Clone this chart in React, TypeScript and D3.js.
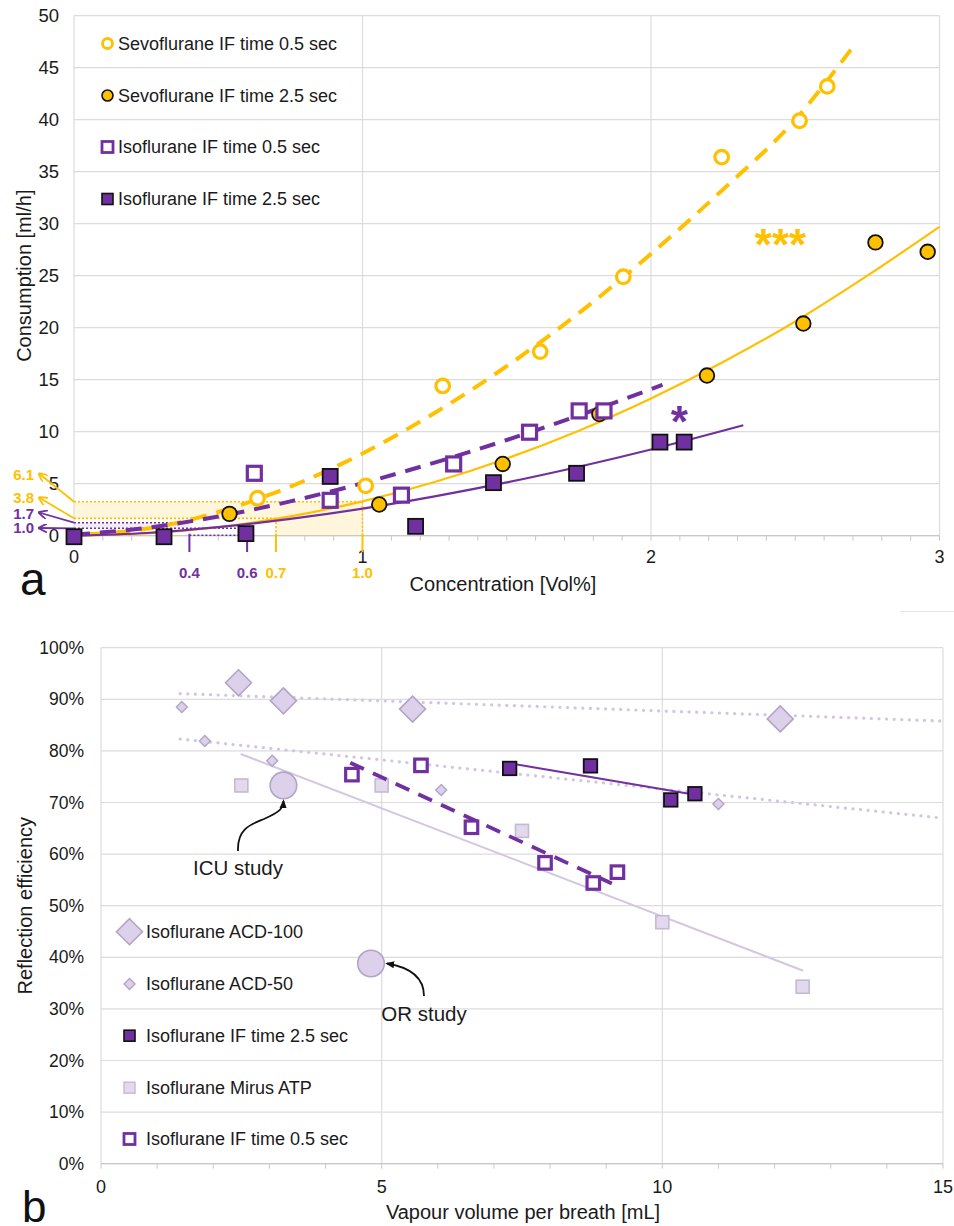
import React from "react";
import * as d3 from "d3";

// ---------- Panel a data ----------
const sevo05Conc = [0.636, 1.011, 1.278, 1.616, 1.904, 2.245, 2.515, 2.611];
const sevo05Cons = [3.6, 4.8, 14.4, 17.7, 24.9, 36.4, 39.9, 43.2];
const sevo25Conc = [0.539, 1.058, 1.486, 1.821, 2.194, 2.528, 2.778, 2.959];
const sevo25Cons = [2.1, 3.0, 6.9, 11.7, 15.4, 20.4, 28.2, 27.3];
const iso05Conc = [0.625, 0.888, 1.135, 1.316, 1.579, 1.751, 1.837];
const iso05Cons = [6.0, 3.4, 3.9, 6.9, 9.95, 12.0, 12.0];
const iso25Conc = [0, 0.312, 0.596, 0.888, 1.184, 1.454, 1.742, 2.031, 2.115];
const iso25Cons = [-0.1, -0.1, 0.2, 5.7, 0.9, 5.1, 6.0, 9.0, 9.0];

// trend lines
const sevo05TrendX = [0.05, 0.25, 0.5, 0.75, 1.0, 1.25, 1.5, 1.75, 2.0, 2.25, 2.5, 2.7];
const sevo05TrendY = [0.15, 0.66, 2.28, 4.72, 7.9, 11.8, 16.3, 21.4, 27.1, 33.3, 40.0, 47.0];
const sevo25TrendX = [0, 0.25, 0.5, 0.75, 1.0, 1.25, 1.5, 1.75, 2.0, 2.25, 2.5, 2.75, 3.0];
const sevo25TrendY = [0, 0.21, 0.83, 1.86, 3.3, 5.16, 7.43, 10.1, 13.2, 16.7, 20.6, 25.0, 29.7];
const iso05TrendX = [0, 0.25, 0.5, 0.75, 1.0, 1.25, 1.5, 1.75, 2.04];
const iso05TrendY = [0.1, 0.75, 1.85, 3.3, 5.05, 7.03, 9.2, 11.56, 14.5];
const iso25TrendX = [0, 0.25, 0.5, 0.75, 1.0, 1.25, 1.5, 1.75, 2.0, 2.32];
const iso25TrendY = [0, 0.26, 0.82, 1.61, 2.6, 3.78, 5.12, 6.63, 8.29, 10.62];

const yTicksA = [0, 5, 10, 15, 20, 25, 30, 35, 40, 45, 50];
const xTicksA = [0, 1, 2, 3];

const legendA = [
  "Sevoflurane IF time 0.5 sec",
  "Sevoflurane IF time 2.5 sec",
  "Isoflurane IF time 0.5 sec",
  "Isoflurane IF time 2.5 sec",
];

// annotation values (panel a)
const sevoLevels = [3.27, 1.67];
const sevoLevelLabels = ["6.1", "3.8"];
const isoLevels = [1.25, 0.71];
const isoLevelLabels = ["1.7", "1.0"];
const isoConcMarks = [0.4, 0.6];
const sevoConcMarks = [0.7, 1.0];
const isoConcLabels = ["0.4", "0.6"];
const sevoConcLabels = ["0.7", "1.0"];

// ---------- Panel b data ----------
const acd100X = [2.45, 3.25, 5.55, 12.1];
const acd100Y = [0.932, 0.897, 0.881, 0.862];
const acd50X = [1.44, 1.85, 3.05, 6.06, 11.0];
const acd50Y = [0.885, 0.819, 0.781, 0.724, 0.697];
const if25X = [7.28, 8.72, 10.15, 10.58];
const if25Y = [0.766, 0.771, 0.705, 0.717];
const mirusX = [2.5, 5.0, 7.5, 10.0, 12.5];
const mirusY = [0.733, 0.733, 0.645, 0.468, 0.343];
const if05X = [4.47, 5.7, 6.6, 7.91, 8.77, 9.2];
const if05Y = [0.754, 0.772, 0.652, 0.583, 0.544, 0.565];
const icuStudy = [3.25, 0.733];
const orStudy = [4.81, 0.388];

const acd100TrendX = [1.41, 14.96];
const acd100TrendY = [0.911, 0.858];
const acd50TrendX = [1.41, 14.96];
const acd50TrendY = [0.823, 0.67];
const if25TrendX = [7.28, 10.58];
const if25TrendY = [0.776, 0.715];
const if05TrendX = [4.44, 9.1];
const if05TrendY = [0.777, 0.543];
const mirusTrendX = [2.49, 12.51];
const mirusTrendY = [0.794, 0.374];

const yTicksB = [0, 0.1, 0.2, 0.3, 0.4, 0.5, 0.6, 0.7, 0.8, 0.9, 1.0];
const xTicksB = [0, 5, 10, 15];
const legendB = [
  "Isoflurane ACD-100",
  "Isoflurane ACD-50",
  "Isoflurane IF time 2.5 sec",
  "Isoflurane Mirus ATP",
  "Isoflurane IF time 0.5 sec",
];

// ---------- styles ----------
const YEL = "#FFC000";
const PUR = "#7030A0";
const LAV = "#DCD0EA";
const LAV_S = "#B3A4C6";
const MIR = "#E2DAEC";
const MIR_S = "#C5B9D4";
const DOT = "#D3C5E4";
const GRID = "#DCDCDC";
const TXT = "#1a1a1a";
const FONT = "'Liberation Sans', Arial, Helvetica, sans-serif";

const zip = (xs: number[], ys: number[]) => xs.map((x, i) => [x, ys[i]] as [number, number]);

export default function App() {
  const xA = d3.scaleLinear().domain([0, 3]).range([74, 939.5]);
  const yA = d3.scaleLinear().domain([0, 50]).range([535.7, 15.7]);
  const xB = d3.scaleLinear().domain([0, 15]).range([101, 943]);
  const yB = d3.scaleLinear().domain([0, 1]).range([1163.7, 647.7]);

  const lineA = d3
    .line<[number, number]>()
    .x((d) => xA(d[0]))
    .y((d) => yA(d[1]))
    .curve(d3.curveMonotoneX);
  const lineB = d3
    .line<[number, number]>()
    .x((d) => xB(d[0]))
    .y((d) => yB(d[1]));

  const minorA = d3.range(0, 30.01, 1).map((i) => i / 10);
  const minorB = d3.range(0, 15.01, 1);

  const sq = (cx: number, cy: number, s: number, props: any, key?: any) => (
    <rect key={key} x={cx - s / 2} y={cy - s / 2} width={s} height={s} {...props} />
  );
  const diamond = (cx: number, cy: number, r: number, props: any, key?: any) => (
    <path key={key} d={`M${cx},${cy - r}L${cx + r},${cy}L${cx},${cy + r}L${cx - r},${cy}Z`} {...props} />
  );

  // cream shaded region (panel a)
  const shade =
    [
      [0, sevoLevels[0]],
      [sevoConcMarks[1], sevoLevels[0]],
      [sevoConcMarks[1], 0],
      [sevoConcMarks[0], 0],
      [sevoConcMarks[0], sevoLevels[1]],
      [0, sevoLevels[1]],
    ]
      .map((p, i) => `${i ? "L" : "M"}${xA(p[0])},${yA(p[1])}`)
      .join("") + "Z";
  const lavShade = `M${xA(0)},${yA(isoLevels[0])}L${xA(isoConcMarks[0])},${yA(isoLevels[0])}L${xA(isoConcMarks[0])},${yA(isoLevels[1])}L${xA(0)},${yA(isoLevels[1])}Z`;

  const annArrowEnds = [
    [39, 473.5],
    [39, 497.5],
    [39, 512.5],
    [39, 528],
  ];
  const annLabelY = [480, 503, 519, 533];

  return (
    <svg
      width={954}
      height={1226}
      style={{ position: "absolute", left: 0, top: 0, background: "#fff" }}
      fontFamily={FONT}
    >
      <defs>
        <marker id="arrY" viewBox="0 0 10 10" refX="9" refY="5" markerWidth="9" markerHeight="9" markerUnits="userSpaceOnUse" orient="auto">
          <path d="M0,0L10,5L0,10" fill="none" stroke={YEL} strokeWidth="2" />
        </marker>
        <marker id="arrP" viewBox="0 0 10 10" refX="9" refY="5" markerWidth="9" markerHeight="9" markerUnits="userSpaceOnUse" orient="auto">
          <path d="M0,0L10,5L0,10" fill="none" stroke={PUR} strokeWidth="2" />
        </marker>
        <marker id="arrK" viewBox="0 0 10 10" refX="8" refY="5" markerWidth="9" markerHeight="9" markerUnits="userSpaceOnUse" orient="auto">
          <path d="M0,1L10,5L0,9Z" fill="#111" />
        </marker>
      </defs>

      {/* ================= PANEL A ================= */}
      <path d={shade} fill="#FFF4D6" opacity={0.85} />
      <path d={lavShade} fill="#F1EAF7" opacity={0.9} />

      {yTicksA.map((t) => (
        <line key={"gya" + t} x1={xA(0)} x2={xA(3)} y1={yA(t)} y2={yA(t)} stroke={GRID} strokeWidth={1.2} />
      ))}
      {xTicksA.map((t) => (
        <line key={"gxa" + t} x1={xA(t)} x2={xA(t)} y1={yA(0)} y2={yA(50)} stroke={GRID} strokeWidth={1.2} />
      ))}
      {minorA.map((t) => (
        <line key={"mta" + t} x1={xA(t)} x2={xA(t)} y1={yA(0)} y2={yA(0) + 5} stroke="#C8C8C8" strokeWidth={1} />
      ))}
      <line x1={xA(0)} x2={xA(3)} y1={yA(0)} y2={yA(0)} stroke="#C8C8C8" strokeWidth={1.2} />

      {yTicksA.map((t) => (
        <text key={"lya" + t} x={59} y={yA(t)} dy="0.35em" textAnchor="end" fontSize={18.5} fill={TXT}>
          {t}
        </text>
      ))}
      {xTicksA.map((t) => (
        <text key={"lxa" + t} x={xA(t)} y={563} textAnchor="middle" fontSize={18} fill={TXT}>
          {t}
        </text>
      ))}

      {/* annotation dotted lines */}
      <line x1={xA(0)} x2={xA(sevoConcMarks[1])} y1={yA(sevoLevels[0])} y2={yA(sevoLevels[0])} stroke={YEL} strokeWidth={1.6} strokeDasharray="2 2" />
      <line x1={xA(0)} x2={xA(sevoConcMarks[0])} y1={yA(sevoLevels[1])} y2={yA(sevoLevels[1])} stroke={YEL} strokeWidth={1.6} strokeDasharray="2 2" />
      <line x1={xA(sevoConcMarks[1])} x2={xA(sevoConcMarks[1])} y1={yA(sevoLevels[0])} y2={yA(0)} stroke={YEL} strokeWidth={1.6} strokeDasharray="2 2" />
      <line x1={xA(sevoConcMarks[0])} x2={xA(sevoConcMarks[0])} y1={yA(sevoLevels[1])} y2={yA(0)} stroke={YEL} strokeWidth={1.6} strokeDasharray="2 2" />
      <line x1={xA(0)} x2={xA(isoConcMarks[0])} y1={yA(isoLevels[0])} y2={yA(isoLevels[0])} stroke={PUR} strokeWidth={1.6} strokeDasharray="2 2" />
      <line x1={xA(0)} x2={xA(isoConcMarks[1])} y1={yA(isoLevels[1])} y2={yA(isoLevels[1])} stroke={PUR} strokeWidth={1.6} strokeDasharray="2 2" />
      <line x1={xA(isoConcMarks[0])} x2={xA(isoConcMarks[1])} y1={yA(0.05)} y2={yA(0.05)} stroke={PUR} strokeWidth={1.6} strokeDasharray="2 2" />

      {isoConcMarks.map((c, i) => (
        <g key={"icm" + i}>
          <line x1={xA(c)} x2={xA(c)} y1={yA(0) - 2} y2={552} stroke={PUR} strokeWidth={2} />
          <text x={xA(c)} y={578} textAnchor="middle" fontSize={15} fontWeight={700} fill={PUR}>
            {isoConcLabels[i]}
          </text>
        </g>
      ))}
      {sevoConcMarks.map((c, i) => (
        <g key={"scm" + i}>
          <line x1={xA(c)} x2={xA(c)} y1={yA(0) - 2} y2={552} stroke={YEL} strokeWidth={2} />
          <text x={xA(c)} y={578} textAnchor="middle" fontSize={15} fontWeight={700} fill={YEL}>
            {sevoConcLabels[i]}
          </text>
        </g>
      ))}

      {[...sevoLevels, ...isoLevels].map((v, i) => {
        const col = i < 2 ? YEL : PUR;
        const lab = i < 2 ? sevoLevelLabels[i] : isoLevelLabels[i - 2];
        return (
          <g key={"arr" + i}>
            <line
              x1={xA(0)}
              y1={yA(v)}
              x2={annArrowEnds[i][0]}
              y2={annArrowEnds[i][1]}
              stroke={col}
              strokeWidth={1.8}
              markerEnd={i < 2 ? "url(#arrY)" : "url(#arrP)"}
            />
            <text x={34} y={annLabelY[i]} textAnchor="end" fontSize={15} fontWeight={700} fill={col}>
              {lab}
            </text>
          </g>
        );
      })}

      {/* trend lines */}
      <path d={lineA(zip(sevo05TrendX, sevo05TrendY)) || ""} fill="none" stroke={YEL} strokeWidth={4} strokeDasharray="16 10" />
      <path d={lineA(zip(sevo25TrendX, sevo25TrendY)) || ""} fill="none" stroke={YEL} strokeWidth={2.2} />
      <path d={lineA(zip(iso05TrendX, iso05TrendY)) || ""} fill="none" stroke={PUR} strokeWidth={4} strokeDasharray="16 10" />
      <path d={lineA(zip(iso25TrendX, iso25TrendY)) || ""} fill="none" stroke={PUR} strokeWidth={2.2} />

      {zip(iso25Conc, iso25Cons).map((d, i) =>
        sq(xA(d[0]), yA(d[1]), 15, { fill: PUR, stroke: "#111", strokeWidth: 1.8 }, "i25" + i)
      )}
      {zip(sevo25Conc, sevo25Cons).map((d, i) => (
        <circle key={"s25" + i} cx={xA(d[0])} cy={yA(d[1])} r={7.3} fill={YEL} stroke="#111" strokeWidth={1.8} />
      ))}
      {zip(iso05Conc, iso05Cons).map((d, i) =>
        sq(xA(d[0]), yA(d[1]), 14, { fill: "#fff", stroke: PUR, strokeWidth: 3.2 }, "i05" + i)
      )}
      {zip(sevo05Conc, sevo05Cons).map((d, i) => (
        <circle key={"s05" + i} cx={xA(d[0])} cy={yA(d[1])} r={6.8} fill="#fff" stroke={YEL} strokeWidth={3.2} />
      ))}

      <text x={xA(2.449)} y={yA(28.9) + 25} textAnchor="middle" fontSize={44} fontWeight={700} fill={YEL}>
        ***
      </text>
      <text x={xA(2.098)} y={yA(11.85) + 25} textAnchor="middle" fontSize={44} fontWeight={700} fill={PUR}>
        *
      </text>

      {legendA.map((name, i) => {
        const cy = [43.5, 95.5, 147, 199][i];
        const cx = 107.5;
        let mk;
        if (i === 0) mk = <circle cx={cx} cy={cy} r={5} fill="#fff" stroke={YEL} strokeWidth={2.8} />;
        else if (i === 1) mk = <circle cx={cx} cy={cy} r={5.5} fill={YEL} stroke="#111" strokeWidth={1.6} />;
        else if (i === 2) mk = sq(cx, cy, 11, { fill: "#fff", stroke: PUR, strokeWidth: 2.8 });
        else mk = sq(cx, cy, 11, { fill: PUR, stroke: "#111", strokeWidth: 1.6 });
        return (
          <g key={"lga" + i}>
            {mk}
            <text x={118} y={cy} dy="0.35em" fontSize={18} fill={TXT}>
              {name}
            </text>
          </g>
        );
      })}

      <text x={503} y={591} textAnchor="middle" fontSize={20} fill={TXT}>
        Concentration [Vol%]
      </text>
      <text transform={`translate(31,${(yA(0) + yA(50)) / 2}) rotate(-90)`} textAnchor="middle" fontSize={20} fill={TXT}>
        Consumption [ml/h]
      </text>
      <text x={20} y={595} fontSize={46} fill="#111">
        a
      </text>

      <line x1={900} x2={954} y1={611.5} y2={611.5} stroke="#E6E6E6" strokeWidth={1.2} />

      {/* ================= PANEL B ================= */}
      {yTicksB.map((t) => (
        <line key={"gyb" + t} x1={xB(0)} x2={xB(15)} y1={yB(t)} y2={yB(t)} stroke={GRID} strokeWidth={1.2} />
      ))}
      {xTicksB.map((t) => (
        <line key={"gxb" + t} x1={xB(t)} x2={xB(t)} y1={yB(0)} y2={yB(1)} stroke={GRID} strokeWidth={1.2} />
      ))}
      {minorB.map((t) => (
        <line key={"mtb" + t} x1={xB(t)} x2={xB(t)} y1={yB(0)} y2={yB(0) + 5} stroke="#C8C8C8" strokeWidth={1} />
      ))}
      <line x1={xB(0)} x2={xB(15)} y1={yB(0)} y2={yB(0)} stroke="#C8C8C8" strokeWidth={1.2} />

      {yTicksB.map((t) => (
        <text key={"lyb" + t} x={84} y={yB(t)} dy="0.35em" textAnchor="end" fontSize={17.5} fill={TXT}>
          {d3.format(".0%")(t)}
        </text>
      ))}
      {xTicksB.map((t) => (
        <text key={"lxb" + t} x={xB(t)} y={1193} textAnchor="middle" fontSize={18} fill={TXT}>
          {t}
        </text>
      ))}

      <path d={lineB(zip(acd100TrendX, acd100TrendY)) || ""} fill="none" stroke={DOT} strokeWidth={3.2} strokeDasharray="0.1 7.5" strokeLinecap="round" />
      <path d={lineB(zip(acd50TrendX, acd50TrendY)) || ""} fill="none" stroke={DOT} strokeWidth={3.2} strokeDasharray="0.1 7.5" strokeLinecap="round" />
      <path d={lineB(zip(mirusTrendX, mirusTrendY)) || ""} fill="none" stroke="#D2C6E2" strokeWidth={2} />

      <circle cx={xB(icuStudy[0])} cy={yB(icuStudy[1])} r={13.3} fill={LAV} stroke={LAV_S} strokeWidth={1.6} />
      <circle cx={xB(orStudy[0])} cy={yB(orStudy[1])} r={13.3} fill={LAV} stroke={LAV_S} strokeWidth={1.6} />

      {zip(mirusX, mirusY).map((d, i) =>
        sq(xB(d[0]), yB(d[1]), 13, { fill: MIR, stroke: MIR_S, strokeWidth: 1.6 }, "mir" + i)
      )}
      {zip(acd100X, acd100Y).map((d, i) => diamond(xB(d[0]), yB(d[1]), 13, { fill: LAV, stroke: LAV_S, strokeWidth: 1.6 }, "a100" + i))}
      {zip(acd50X, acd50Y).map((d, i) => diamond(xB(d[0]), yB(d[1]), 5.5, { fill: LAV, stroke: LAV_S, strokeWidth: 1.4 }, "a50" + i))}

      <path d={lineB(zip(if05TrendX, if05TrendY)) || ""} fill="none" stroke={PUR} strokeWidth={3.8} strokeDasharray="15 10" />
      <path d={lineB(zip(if25TrendX, if25TrendY)) || ""} fill="none" stroke={PUR} strokeWidth={2.2} />

      {zip(if25X, if25Y).map((d, i) =>
        sq(xB(d[0]), yB(d[1]), 13.5, { fill: PUR, stroke: "#111", strokeWidth: 1.8 }, "b25" + i)
      )}
      {zip(if05X, if05Y).map((d, i) =>
        sq(xB(d[0]), yB(d[1]), 12.5, { fill: "#fff", stroke: PUR, strokeWidth: 3.2 }, "b05" + i)
      )}

      <path d="M238,851 C237,828 252,824 264,819 C277,813 283,810 283.5,801" fill="none" stroke="#111" strokeWidth={1.8} markerEnd="url(#arrK)" />
      <text x={238} y={875} textAnchor="middle" fontSize={20.5} fill={TXT}>
        ICU study
      </text>
      <path d="M424,996 C424,980 414,968 387,963.5" fill="none" stroke="#111" strokeWidth={1.8} markerEnd="url(#arrK)" />
      <text x={424} y={1021} textAnchor="middle" fontSize={20.5} fill={TXT}>
        OR study
      </text>

      {legendB.map((name, i) => {
        const cy = [931.7, 984, 1035.7, 1087.7, 1139][i];
        const cx = 129.5;
        let mk;
        if (i === 0) mk = diamond(cx, cy, 13, { fill: LAV, stroke: LAV_S, strokeWidth: 1.6 });
        else if (i === 1) mk = diamond(cx, cy, 5.5, { fill: LAV, stroke: LAV_S, strokeWidth: 1.4 });
        else if (i === 2) mk = sq(cx, cy, 11, { fill: PUR, stroke: "#111", strokeWidth: 1.6 });
        else if (i === 3) mk = sq(cx, cy, 11, { fill: MIR, stroke: MIR_S, strokeWidth: 1.4 });
        else mk = sq(cx, cy, 11, { fill: "#fff", stroke: PUR, strokeWidth: 2.8 });
        return (
          <g key={"lgb" + i}>
            {mk}
            <text x={146} y={cy} dy="0.35em" fontSize={18} fill={TXT}>
              {name}
            </text>
          </g>
        );
      })}

      <text x={xB(7.5) + 1} y={1219} textAnchor="middle" fontSize={20} fill={TXT}>
        Vapour volume per breath [mL]
      </text>
      <text transform={`translate(32,${(yB(0) + yB(1)) / 2}) rotate(-90)`} textAnchor="middle" fontSize={20} fill={TXT}>
        Reflection efficiency
      </text>
      <text x={22} y={1222} fontSize={44} fill="#111">
        b
      </text>
    </svg>
  );
}
